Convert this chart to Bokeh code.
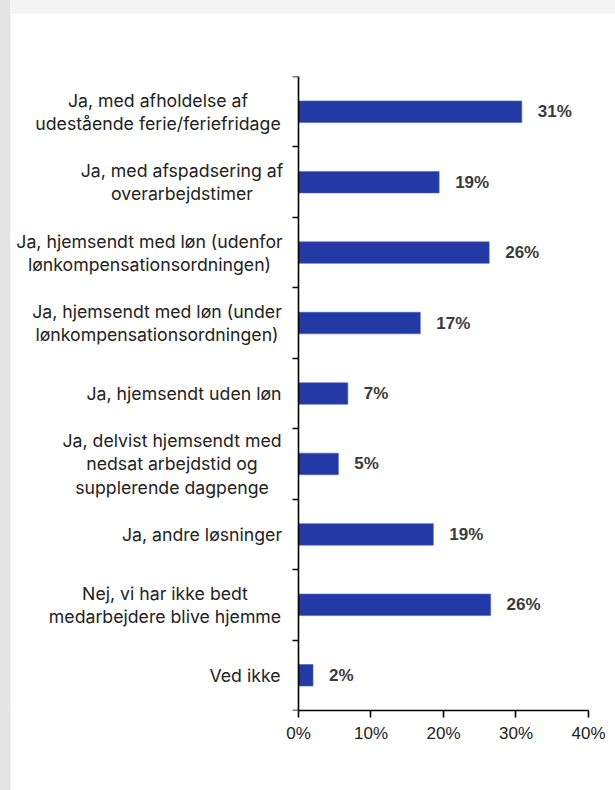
import numpy as np
from bokeh.plotting import figure
from bokeh.models import ColumnDataSource, Range1d, FixedTicker, PrintfTickFormatter
from bokeh.core.properties import value
from bokeh.embed import file_html
from bokeh.resources import INLINE

categories = [
    "Ja, med afholdelse af\nudestående ferie/feriefridage",
    "Ja, med afspadsering af\noverarbejdstimer",
    "Ja, hjemsendt med løn (udenfor\nlønkompensationsordningen)",
    "Ja, hjemsendt med løn (under\nlønkompensationsordningen)",
    "Ja, hjemsendt uden løn",
    "Ja, delvist hjemsendt med\nnedsat arbejdstid og\nsupplerende dagpenge",
    "Ja, andre løsninger",
    "Nej, vi har ikke bedt\nmedarbejdere blive hjemme",
    "Ved ikke",
]
values = [30.8, 19.4, 26.3, 16.8, 6.8, 5.5, 18.6, 26.5, 2.0]
value_labels = ["31%", "19%", "26%", "17%", "7%", "5%", "19%", "26%", "2%"]
x_ticks = [0, 10, 20, 30, 40]

# style: horizontal offsets (px) of the centred category label blocks
label_offsets = [-140.5, -116.5, -149, -141.5, -114.5, -126.5, -96.5, -133.5, -53.5]

BAR = "#2239a6"
n = len(categories)
pos = np.arange(n) + 0.5  # slot centre of each category (top to bottom)

src = ColumnDataSource(dict(cat=categories, pos=pos, val=values, lab=value_labels,
                            zero=[0] * n, off=label_offsets))

p = figure(width=605, height=777, output_backend="svg", toolbar_location=None,
           y_range=Range1d(n, 0), x_range=Range1d(-39.724, 40),
           min_border_left=0, min_border_top=63, min_border_right=27, min_border_bottom=80)
p.outline_line_color = None
p.background_fill_color = "white"
p.border_fill_color = "white"
p.xgrid.visible = False
p.ygrid.visible = False

p.hbar(y="pos", right="val", left=0, height=0.305, source=src,
       fill_color=BAR, line_color="#4a5fc0", line_width=0.6)

p.text(x="val", y="pos", text="lab", source=src, x_offset=16,
       text_baseline="middle", text_align="left",
       text_font=value("Liberation Sans"), text_font_style="bold",
       text_font_size="17px", text_color="#3a3a3a")

# category labels, centred lines, left of the axis
p.text(x="zero", y="pos", text="cat", source=src, x_offset="off",
       text_align="center", text_baseline="middle",
       text_font=value("Inter"), text_font_size="17.7px",
       text_color="#222222", text_line_height=1.1)

# x axis
xa = p.xaxis[0]
xa.bounds = (0, 40)
xa.ticker = FixedTicker(ticks=x_ticks)
xa.formatter = PrintfTickFormatter(format="%d%%")
xa.axis_line_color = "black"
xa.axis_line_width = 1.6
xa.major_tick_line_color = "black"
xa.major_tick_line_width = 1.6
xa.major_tick_in = 0
xa.major_tick_out = 7
xa.minor_tick_line_color = None
xa.major_label_text_font = "Liberation Sans"
xa.major_label_text_font_size = "17px"
xa.major_label_text_color = "#222222"
xa.major_label_standoff = 6

# y axis at x = 0 with ticks at category boundaries
ya = p.yaxis[0]
ya.fixed_location = 0
ya.ticker = FixedTicker(ticks=list(range(n + 1)))
ya.axis_line_color = "black"
ya.axis_line_width = 1.6
ya.major_tick_line_color = "black"
ya.major_tick_line_width = 1.6
ya.major_tick_in = 0
ya.major_tick_out = 6
ya.minor_tick_line_color = None
ya.major_label_text_font_size = "0px"
ya.major_label_text_color = None
ya.major_label_standoff = 0

css = ("<style>html,body{background:linear-gradient(to right,#e4e4e4 0,#e4e4e4 10px,"
       "#f4f4f4 10px) !important;}body{padding:13px 0 0 10px !important;}</style>")
html = file_html(p, INLINE)
html = html.replace("</head>", css + "</head>", 1)
open("out.html", "w").write(html)
